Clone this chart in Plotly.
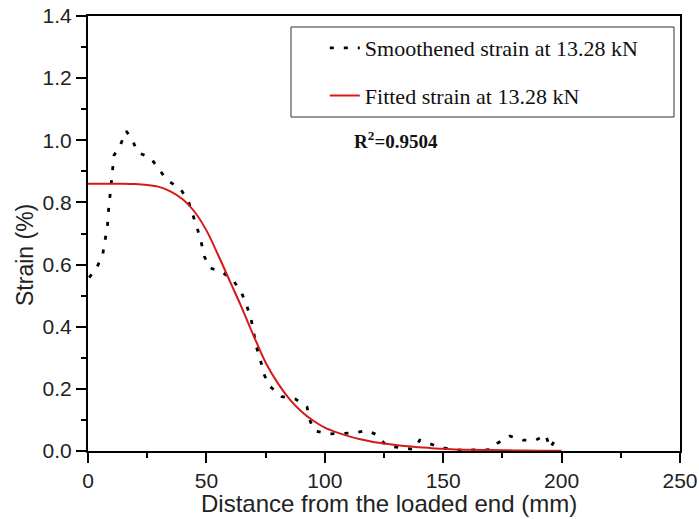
import plotly.graph_objects as go

# Smoothened strain (mm, %)
smooth_x = [0.5, 3.7, 6.2, 7.2, 8.2, 8.6, 9.3, 10.0, 10.4, 11.0, 13.8, 16.1, 18.5, 20.9,
            26.6, 30.2, 33.5, 38.9, 42.4, 46.2, 47.8, 49.2, 51.5, 56.3, 60.8, 64.6, 66.8,
            68.8, 69.9, 71.1, 72.8, 74.2, 77.0, 81.9, 87.6, 92.5, 93.9, 95.7, 101.2, 107.0,
            112.3, 117.6, 122.1, 126.0, 132.0, 137.6, 140.1, 144.1, 148.6, 155.0, 160.0,
            165.0, 170.0, 172.9, 178.2, 183.6, 189.1, 193.3, 195.1, 197.2, 199.0]
smooth_y = [0.558, 0.59, 0.632, 0.675, 0.724, 0.769, 0.815, 0.864, 0.906, 0.952, 0.987, 1.03,
            1.005, 0.962, 0.942, 0.904, 0.871, 0.845, 0.804, 0.715, 0.672, 0.625, 0.589, 0.577,
            0.554, 0.514, 0.473, 0.428, 0.382, 0.336, 0.294, 0.248, 0.207, 0.175, 0.167, 0.141,
            0.095, 0.065, 0.055, 0.057, 0.058, 0.066, 0.052, 0.017, 0.012, 0.005, 0.035, 0.025,
            0.012, 0.003, 0.003, 0.003, 0.004, 0.025, 0.048, 0.035, 0.035, 0.052, 0.009, 0.035,
            0.02]

# Fitted strain
fit_x = [0, 5, 10, 15, 20, 25, 30, 35, 40, 45, 50, 55, 60, 65, 70, 75, 80, 85, 90, 95,
         100, 105, 110, 115, 120, 125, 130, 135, 140, 145, 150, 155, 160, 170, 180, 190, 200]
fit_y = [0.86, 0.86, 0.86, 0.86, 0.859, 0.856, 0.85, 0.835, 0.81, 0.77, 0.71, 0.63, 0.545,
         0.46, 0.37, 0.285, 0.22, 0.168, 0.128, 0.098, 0.075, 0.06, 0.048, 0.038, 0.03, 0.024,
         0.019, 0.015, 0.012, 0.009, 0.007, 0.005, 0.004, 0.003, 0.002, 0.001, 0.001]

x_ticks = [0, 50, 100, 150, 200, 250]
y_ticks = [0.0, 0.2, 0.4, 0.6, 0.8, 1.0, 1.2, 1.4]
y_tick_labels = ["0.0", "0.2", "0.4", "0.6", "0.8", "1.0", "1.2", "1.4"]

sans = "Liberation Sans, Arial, sans-serif"
serif = "Liberation Serif, Times New Roman, serif"

fig = go.Figure()
fig.add_trace(go.Scatter(
    x=smooth_x, y=smooth_y, mode="lines", name="Smoothened strain at 13.28 kN",
    line=dict(color="black", width=2.8, dash="4px,10px"), legendgroup="a"))
fig.add_trace(go.Scatter(
    x=fit_x, y=fit_y, mode="lines", name="Fitted strain at 13.28 kN",
    line=dict(color="#d41a1a", width=2), legendgroup="b", line_shape="spline"))

axis_common = dict(showline=True, linecolor="black", linewidth=2, mirror=True,
                   ticks="outside", ticklen=10, tickwidth=1.5, tickcolor="black",
                   showgrid=False, zeroline=False, automargin=False,
                   tickfont=dict(family=sans, size=21, color="#222"))

fig.update_xaxes(range=[0, 250], tickvals=x_ticks,
                 minor=dict(ticks="outside", ticklen=5, tickwidth=1.5, tickcolor="black", dtick=25),
                 **axis_common)
fig.update_yaxes(range=[0, 1.4], tickvals=y_ticks, ticktext=y_tick_labels,
                 minor=dict(ticks="outside", ticklen=5, tickwidth=1.5, tickcolor="black", dtick=0.1),
                 **axis_common)

fig.update_layout(
    width=699, height=519,
    margin=dict(l=88, r=19, t=16, b=68),
    paper_bgcolor="white", plot_bgcolor="white",
    showlegend=True,
    legend=dict(x=0.400, y=0.9745, xanchor="left", yanchor="top",
                bgcolor="rgba(0,0,0,0)", borderwidth=0,
                font=dict(family=serif, size=22, color="#111"),
                traceorder="grouped", tracegroupgap=16),
    shapes=[dict(type="rect", xref="paper", yref="paper",
                 x0=(291 - 88) / 592, x1=(674 - 88) / 592,
                 y0=(451 - 117) / 435, y1=(451 - 27) / 435,
                 line=dict(color="#333", width=1))],
    annotations=[
        dict(text="<b>R<sup>2</sup>=0.9504</b>", x=129.9, y=1.0, xref="x", yref="y",
             showarrow=False, font=dict(family=serif, size=19, color="#111")),
        dict(text="Strain (%)", textangle=-90, xref="paper", yref="paper",
             x=(25 - 88) / 592, y=(451 - 255) / 435, xanchor="center", yanchor="middle",
             showarrow=False, font=dict(family=sans, size=23, color="#222")),
        dict(text="Distance from the loaded end (mm)", xref="paper", yref="paper",
             x=(389 - 88) / 592, y=-(503 - 451) / 435, xanchor="center", yanchor="middle",
             showarrow=False, font=dict(family=sans, size=24, color="#222")),
    ],
)

fig.write_html("out.html")
